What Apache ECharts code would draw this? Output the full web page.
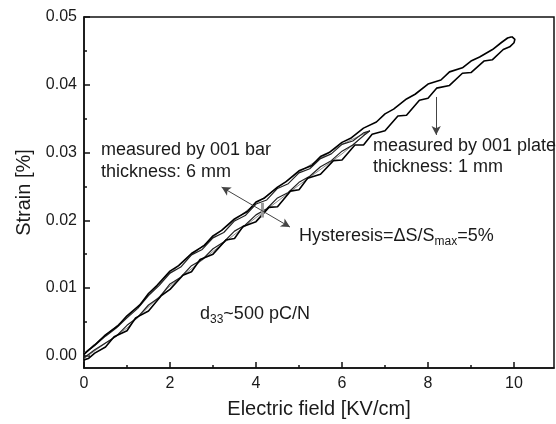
<!DOCTYPE html>
<html>
<head>
<meta charset="utf-8">
<script src="https://cdn.jsdelivr.net/npm/echarts@6/dist/echarts.min.js"></script>
<style>
  html, body { margin: 0; padding: 0; background: #fff; }
  #chart { width: 556px; height: 424px; }
</style>
</head>
<body>
<div id="chart"></div>
<script>
// x ticks / y ticks
var xLabels = [0, 2, 4, 6, 8, 10];
var xMinor = [1, 3, 5, 7, 9];
var yLabels = [0, 0.01, 0.02, 0.03, 0.04, 0.05];
var yMinor = [0.005, 0.015, 0.025, 0.035, 0.045];

// 001 plate, 1 mm : rising branch then falling branch
var plateUp = [
  [0, -0.0006], [0.1, -0.0004], [0.25, 0.0004], [0.5, 0.0013], [0.7, 0.0028],
  [1.0, 0.0037], [1.2, 0.0056], [1.5, 0.0066], [1.8, 0.0089], [2.0, 0.0098],
  [2.3, 0.0119], [2.5, 0.0124], [2.7, 0.0142], [3.0, 0.0150], [3.3, 0.0171],
  [3.5, 0.0173], [3.7, 0.0191], [4.0, 0.0198], [4.3, 0.0219], [4.5, 0.0220],
  [4.8, 0.0243], [5.0, 0.0245], [5.2, 0.0262], [5.5, 0.0268], [5.8, 0.0288],
  [6.0, 0.0289], [6.3, 0.0311], [6.5, 0.0311], [6.7, 0.0327], [7.0, 0.0332],
  [7.3, 0.0354], [7.5, 0.0355], [7.8, 0.0377], [8.0, 0.0380], [8.2, 0.0395],
  [8.5, 0.0399], [8.8, 0.0417], [9.0, 0.0418], [9.3, 0.0435], [9.5, 0.0437],
  [9.75, 0.0452], [9.9, 0.0456], [10.0, 0.0462], [10.02, 0.0467], [9.95, 0.0471]
];
var plateDown = [
  [9.95, 0.0471], [9.85, 0.0469], [9.7, 0.0462], [9.5, 0.0452], [9.2, 0.0441],
  [9.0, 0.0435], [8.8, 0.0425], [8.5, 0.0419], [8.3, 0.0407], [8.0, 0.0401],
  [7.7, 0.0386], [7.5, 0.0379], [7.2, 0.0364], [7.0, 0.0357], [6.8, 0.0345],
  [6.5, 0.0336], [6.2, 0.0321], [6.0, 0.0315], [5.7, 0.0300], [5.5, 0.0294],
  [5.3, 0.0281], [5.0, 0.0273], [4.7, 0.0257], [4.5, 0.0249], [4.2, 0.0233],
  [4.0, 0.0227], [3.8, 0.0213], [3.5, 0.0202], [3.2, 0.0185], [3.0, 0.0177],
  [2.8, 0.0163], [2.5, 0.0151], [2.2, 0.0133], [2.0, 0.0125], [1.7, 0.0104],
  [1.5, 0.0092], [1.3, 0.0075], [1.0, 0.0059], [0.8, 0.0045], [0.5, 0.0031],
  [0.25, 0.0016], [0.1, 0.0008], [0, 0.0002]
];

// 001 bar, 6 mm
var barUp = [
  [0, -0.0003], [0.25, 0.0009], [0.5, 0.0019], [0.75, 0.0029], [1.0, 0.0045],
  [1.25, 0.0057], [1.5, 0.0075], [1.75, 0.0086], [2.0, 0.0106], [2.25, 0.0116],
  [2.5, 0.0133], [2.75, 0.0142], [3.0, 0.0158], [3.25, 0.0168], [3.5, 0.0184],
  [3.75, 0.0193], [4.0, 0.0208], [4.25, 0.0217], [4.5, 0.0233], [4.75, 0.0241],
  [5.0, 0.0256], [5.25, 0.0265], [5.5, 0.0279], [5.75, 0.0288], [6.0, 0.0302],
  [6.25, 0.0311], [6.5, 0.0325], [6.65, 0.0332]
];
var barDown = [
  [6.65, 0.0332], [6.5, 0.0329], [6.25, 0.0317], [6.0, 0.0312], [5.75, 0.0298],
  [5.5, 0.0291], [5.25, 0.0276], [5.0, 0.0270], [4.75, 0.0254], [4.5, 0.0247],
  [4.25, 0.0230], [4.0, 0.0224], [3.75, 0.0207], [3.5, 0.0199], [3.25, 0.0182],
  [3.0, 0.0174], [2.75, 0.0157], [2.5, 0.0149], [2.25, 0.0131], [2.0, 0.0122],
  [1.75, 0.0104], [1.5, 0.0089], [1.25, 0.0070], [1.0, 0.0056], [0.75, 0.0041],
  [0.5, 0.0029], [0.25, 0.0015], [0, 0.0003]
];

// smooth fits of the bar loop
var fitUpper = [[0, 0.0004], [1, 0.0057], [2, 0.0122], [3, 0.0175], [4, 0.0225], [5, 0.0271], [6, 0.0312], [6.65, 0.0332]];
var fitLower = [[0, -0.0004], [1, 0.0041], [2, 0.0103], [3, 0.0154], [4, 0.0204], [5, 0.0252], [6, 0.0298], [6.65, 0.0332]];

// hysteresis marker
var hystMark = [[4.15, 0.0204], [4.15, 0.0226]];

var font = "'Liberation Sans', Arial, sans-serif";
var ink = '#1a1a1a';

myChart = echarts.init(document.getElementById('chart'));

function loop(data, width, color) {
    return {
        type: 'line',
        data: data,
        symbol: 'none',
        lineStyle: { color: color, width: width },
        z: 3
    };
}

var xBase = { type: 'value', min: 0, max: 10.93, gridIndex: 0, splitLine: { show: false } };
var yBase = { type: 'value', min: -0.0018, max: 0.05, gridIndex: 0, splitLine: { show: false } };

option = {
    animation: false,
    backgroundColor: '#fff',
    grid: {
        left: 84, right: 2, top: 17, bottom: 55,
        show: true, borderColor: '#111', borderWidth: 1.5
    },
    xAxis: [
        Object.assign({}, xBase, {
            position: 'bottom',
            axisLine: { onZero: false, lineStyle: { color: '#111', width: 1.5 } },
            axisTick: { inside: true, length: 6, customValues: xLabels, lineStyle: { color: '#111', width: 1.5 } },
            axisLabel: { customValues: xLabels, fontSize: 16, color: ink, fontFamily: font, margin: 8 },
            name: 'Electric field [KV/cm]',
            nameLocation: 'middle',
            nameGap: 31,
            nameTextStyle: { fontSize: 20, color: ink, fontFamily: font }
        }),
        Object.assign({}, xBase, {
            position: 'bottom',
            axisLine: { show: false, onZero: false },
            axisTick: { inside: true, length: 3, customValues: xMinor, lineStyle: { color: '#111', width: 1.5 } },
            axisLabel: { show: false }
        })
    ],
    yAxis: [
        Object.assign({}, yBase, {
            position: 'left',
            axisLine: { onZero: false, lineStyle: { color: '#111', width: 1.5 } },
            axisTick: { inside: true, length: 6, customValues: yLabels, lineStyle: { color: '#111', width: 1.5 } },
            axisLabel: {
                customValues: yLabels, fontSize: 16, color: ink, fontFamily: font, margin: 7,
                formatter: function (v) { return v.toFixed(2); }
            },
            name: 'Strain [%]',
            nameLocation: 'middle',
            nameGap: 50,
            nameTextStyle: { fontSize: 20, color: ink, fontFamily: font }
        }),
        Object.assign({}, yBase, {
            position: 'left',
            axisLine: { show: false, onZero: false },
            axisTick: { inside: true, length: 3, customValues: yMinor, lineStyle: { color: '#111', width: 1.5 } },
            axisLabel: { show: false }
        })
    ],
    series: [
        loop(fitUpper, 1, '#888'),
        loop(fitLower, 1, '#888'),
        loop(barUp, 1.2, '#222'),
        loop(barDown, 1.2, '#222'),
        loop(plateUp, 1.6, '#000'),
        loop(plateDown, 1.6, '#000'),
        {
            type: 'line',
            data: hystMark,
            symbol: 'none',
            lineStyle: { color: '#9a9a9a', width: 3 },
            z: 4,
            markLine: {
                silent: true,
                animation: false,
                symbolSize: [7, 9],
                label: { show: false },
                lineStyle: { color: '#444', width: 1, type: 'solid' },
                data: [
                    [{ coord: [3.2, 0.0249], symbol: 'arrow' }, { coord: [4.79, 0.0190], symbol: 'arrow' }],
                    [{ coord: [8.19, 0.0382], symbol: 'none' }, { coord: [8.19, 0.0326], symbol: 'arrow' }]
                ]
            }
        }
    ],
    graphic: [
        {
            type: 'text', left: 101, top: 139,
            style: { text: 'measured by 001 bar\nthickness: 6 mm', font: '18px ' + font, fill: ink, lineHeight: 22 }
        },
        {
            type: 'text', left: 373, top: 136,
            style: { text: 'measured by 001 plate\nthickness: 1 mm', font: '18px ' + font, fill: ink, lineHeight: 21 }
        },
        {
            type: 'text', left: 299, top: 224,
            style: {
                text: '{n|Hysteresis=ΔS/S}{s|max}{n|=5%}',
                fill: ink,
                rich: {
                    n: { fontSize: 18, fontFamily: font, fill: ink, lineHeight: 22 },
                    s: { fontSize: 12, fontFamily: font, fill: ink, padding: [12, 0, 0, 0], lineHeight: 22 }
                }
            }
        },
        {
            type: 'text', left: 200, top: 302,
            style: {
                text: '{n|d}{s|33}{n|~500 pC/N}',
                fill: ink,
                rich: {
                    n: { fontSize: 18, fontFamily: font, fill: ink, lineHeight: 22 },
                    s: { fontSize: 12, fontFamily: font, fill: ink, padding: [12, 0, 0, 0], lineHeight: 22 }
                }
            }
        }
    ]
};

myChart.setOption(option);
</script>
</body>
</html>
